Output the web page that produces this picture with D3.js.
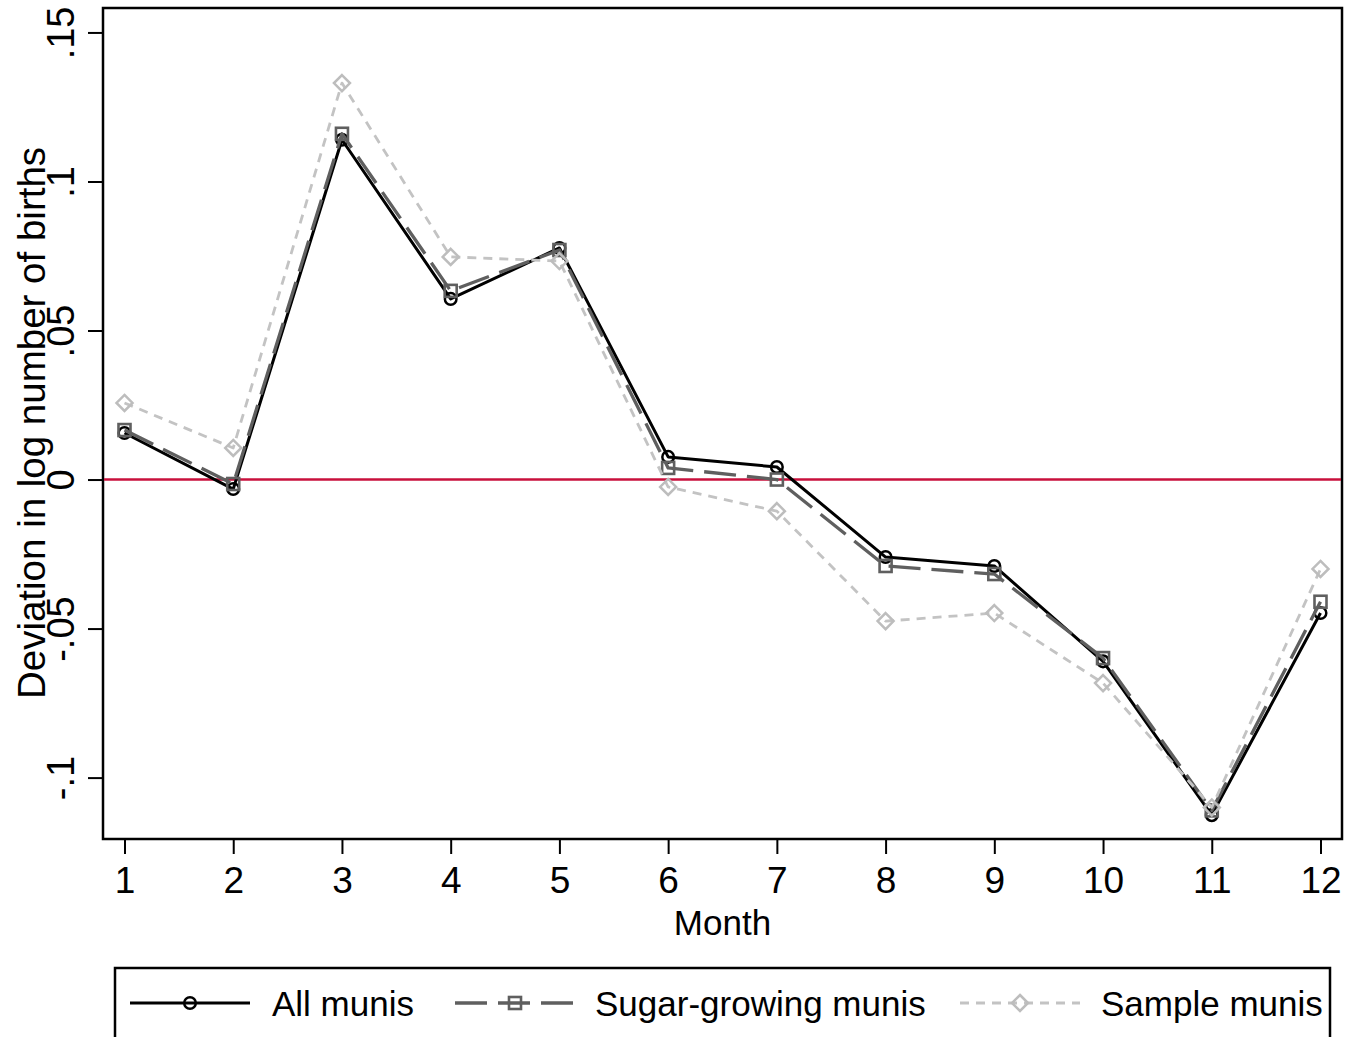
<!DOCTYPE html>
<html lang="en">
<head>
<meta charset="UTF-8">
<title>Deviation in log number of births by month</title>
<script src="https://d3js.org/d3.v7.min.js"></script>
<style>
  body { margin: 0; background: #fff; }
  svg text { font-family: "Liberation Sans", Arial, Helvetica, sans-serif; fill: #000; }
</style>
</head>
<body>
<svg id="chart" width="1347" height="1037"></svg>
<script>
// data
const months = [1, 2, 3, 4, 5, 6, 7, 8, 9, 10, 11, 12];
const allMunis = [0.0156, -0.0032, 0.114, 0.0606, 0.0777, 0.0076, 0.0042, -0.026, -0.029, -0.061, -0.1126, -0.0448];
const sugarMunis = [0.0166, -0.0015, 0.116, 0.0633, 0.077, 0.0039, 0.0, -0.029, -0.0317, -0.0599, -0.111, -0.041];
const sampleMunis = [0.0257, 0.0106, 0.133, 0.0747, 0.0733, -0.0025, -0.0106, -0.0475, -0.0448, -0.0683, -0.110, -0.030];
const yTicks = [-0.1, -0.05, 0, 0.05, 0.1, 0.15];
const yTickLabels = ["-.1", "-.05", "0", ".05", ".1", ".15"];

const series = [
  { name: "All munis", values: allMunis, color: "#000000", width: 3, dash: null, marker: "circle", mcolor: "#000000" },
  { name: "Sugar-growing munis", values: sugarMunis, color: "#5f5f5f", width: 3.3, dash: "32,11", marker: "square", mcolor: "#5f5f5f" },
  { name: "Sample munis", values: sampleMunis, color: "#c3c3c3", width: 2.8, dash: "9,7", marker: "diamond", mcolor: "#bdbdbd" }
];

const svg = d3.select("#chart");
const plot = { left: 103, top: 8, right: 1342, bottom: 839 };

const x = d3.scaleLinear().domain([1, 12]).range([124.5, 1320.5]);
const y = d3.scaleLinear().domain([-0.1206, 0.1582]).range([plot.bottom, plot.top]);

// frame
svg.append("rect")
  .attr("x", plot.left).attr("y", plot.top)
  .attr("width", plot.right - plot.left).attr("height", plot.bottom - plot.top)
  .attr("fill", "none").attr("stroke", "#000").attr("stroke-width", 2.5);

// y axis
const yAxis = svg.append("g")
  .attr("transform", `translate(${plot.left},0)`)
  .call(d3.axisLeft(y).tickValues(yTicks).tickSize(15).tickFormat((d, i) => yTickLabels[i]));
yAxis.select(".domain").remove();
yAxis.selectAll("line").attr("stroke", "#000").attr("stroke-width", 2);
yAxis.selectAll("text")
  .attr("font-size", 38)
  .attr("x", 0).attr("dy", 0)
  .attr("text-anchor", "middle")
  .attr("transform", "translate(-29,0) rotate(-90)");

// x axis
const xAxis = svg.append("g")
  .attr("transform", `translate(0,${plot.bottom})`)
  .call(d3.axisBottom(x).tickValues(months).tickSize(15).tickFormat(d3.format("d")));
xAxis.select(".domain").remove();
xAxis.selectAll("line").attr("stroke", "#000").attr("stroke-width", 2);
xAxis.selectAll("text").attr("font-size", 37).attr("y", 54).attr("dy", 0);

// axis titles
svg.append("text")
  .attr("x", x(6.5)).attr("y", 935)
  .attr("text-anchor", "middle").attr("font-size", 35)
  .text("Month");
svg.append("text")
  .attr("transform", `translate(45,${423}) rotate(-90)`)
  .attr("text-anchor", "middle").attr("font-size", 38.5)
  .text("Deviation in log number of births");

// zero line
svg.append("line")
  .attr("x1", plot.left + 1).attr("x2", plot.right - 1)
  .attr("y1", y(0)).attr("y2", y(0))
  .attr("stroke", "#c8103c").attr("stroke-width", 2.5);

function drawMarker(g, type, cx, cy, color) {
  if (type === "circle") {
    g.append("circle").attr("cx", cx).attr("cy", cy).attr("r", 5.8)
      .attr("fill", "none").attr("stroke", color).attr("stroke-width", 2.5);
  } else if (type === "square") {
    g.append("rect").attr("x", cx - 6).attr("y", cy - 6).attr("width", 12).attr("height", 12)
      .attr("fill", "none").attr("stroke", color).attr("stroke-width", 2.6);
  } else {
    const s = 8;
    g.append("path").attr("d", `M${cx},${cy - s}L${cx + s},${cy}L${cx},${cy + s}L${cx - s},${cy}Z`)
      .attr("fill", "none").attr("stroke", color).attr("stroke-width", 2.5);
  }
}

const line = d3.line().x((d, i) => x(months[i])).y(d => y(d));

series.forEach(s => {
  const g = svg.append("g");
  g.append("path")
    .attr("d", line(s.values))
    .attr("fill", "none")
    .attr("stroke", s.color)
    .attr("stroke-width", s.width)
    .attr("stroke-dasharray", s.dash)
    .attr("stroke-linejoin", "round");
  s.values.forEach((v, i) => drawMarker(g, s.marker, x(months[i]), y(v), s.mcolor));
});

// legend
svg.append("rect")
  .attr("x", 115).attr("y", 968).attr("width", 1215).attr("height", 90)
  .attr("fill", "none").attr("stroke", "#000").attr("stroke-width", 2.5);

const legendItems = [
  { x1: 130, x2: 250, tx: 272 },
  { x1: 455, x2: 575, tx: 595 },
  { x1: 960, x2: 1080, tx: 1101 }
];
const ly = 1003;
series.forEach((s, i) => {
  const li = legendItems[i];
  const g = svg.append("g");
  g.append("line")
    .attr("x1", li.x1).attr("x2", li.x2).attr("y1", ly).attr("y2", ly)
    .attr("stroke", s.color).attr("stroke-width", s.width)
    .attr("stroke-dasharray", s.dash);
  drawMarker(g, s.marker, (li.x1 + li.x2) / 2, ly, s.mcolor);
  g.append("text")
    .attr("x", li.tx).attr("y", ly + 13)
    .attr("font-size", 35)
    .text(s.name);
});
</script>
</body>
</html>
